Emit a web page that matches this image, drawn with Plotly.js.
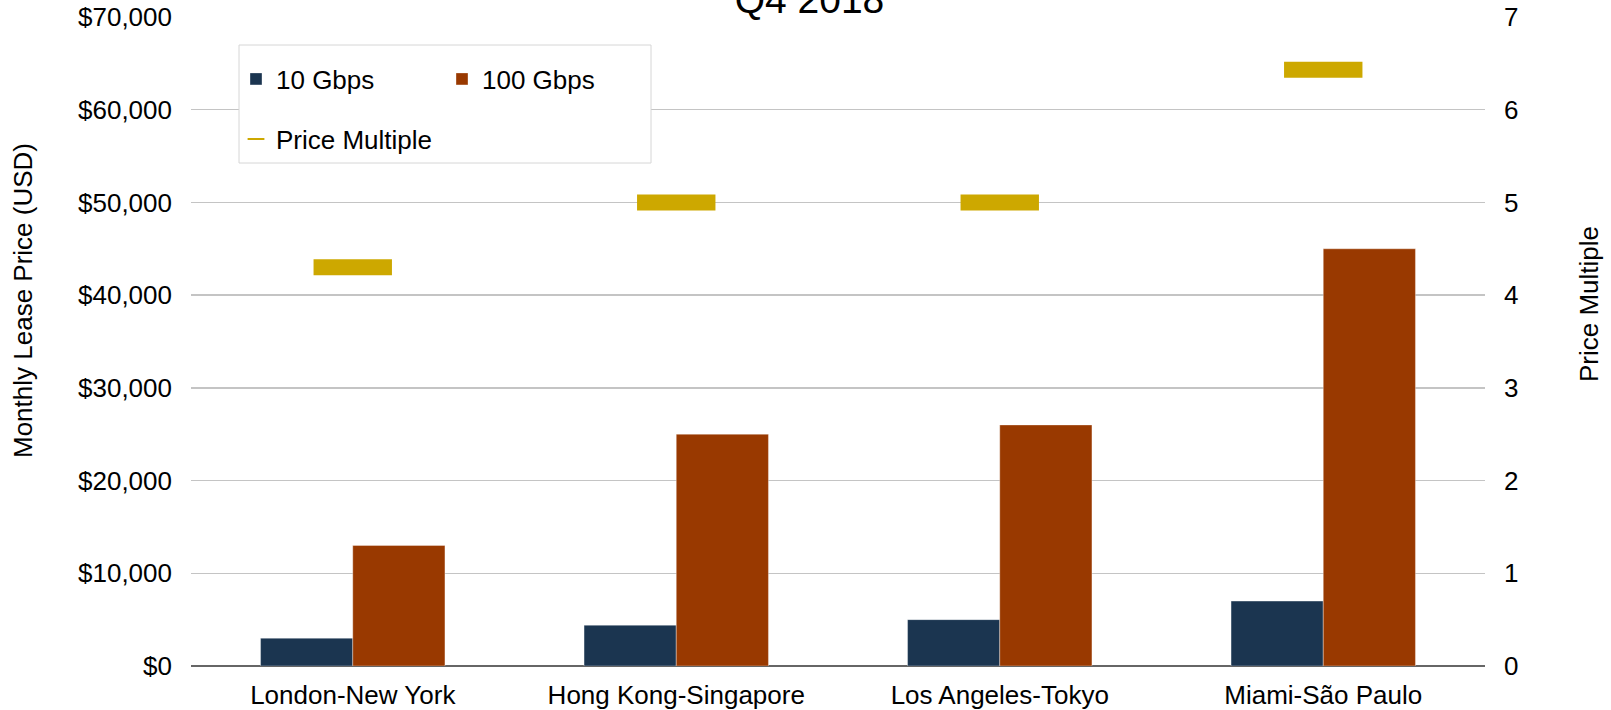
<!DOCTYPE html>
<html>
<head>
<meta charset="utf-8">
<script src="https://cdn.plot.ly/plotly-3.0.1.min.js"></script>
<style>
  html, body { margin: 0; padding: 0; background: #ffffff; }
  #chart { width: 1611px; height: 710px; }
</style>
</head>
<body>
<div id="chart"></div>
<script>
// ---- Data ----
const routes = ["London-New York", "Hong Kong-Singapore", "Los Angeles-Tokyo", "Miami-São Paulo"];
const price10G = [3000, 4400, 5000, 7000];        // Monthly lease price, USD
const price100G = [13000, 25000, 26000, 45000];   // Monthly lease price, USD
const priceMultiple = [4.3, 5.0, 5.0, 6.43];      // Price multiple (right axis)
const leftTickVals = [0, 10000, 20000, 30000, 40000, 50000, 60000, 70000];
const rightTickVals = [0, 1, 2, 3, 4, 5, 6, 7];

const FONT = "'Liberation Sans', Arial, Helvetica, sans-serif";
const NAVY = "#1B3550";
const RUST = "#993900";
const GOLD = "#CDA800";

const traces = [
  {
    type: "bar", name: "10 Gbps", x: routes, y: price10G,
    marker: { color: NAVY, line: { color: "rgba(255,255,255,0.35)", width: 1 } },
    legend: "legend", yaxis: "y"
  },
  {
    type: "bar", name: "100 Gbps", x: routes, y: price100G,
    marker: { color: RUST, line: { color: "rgba(255,255,255,0.35)", width: 1 } },
    legend: "legend2", yaxis: "y"
  },
  {
    type: "scatter", mode: "markers", name: "Price Multiple", x: routes, y: priceMultiple,
    yaxis: "y2", legend: "legend3",
    marker: { symbol: "line-ew", size: 56, color: GOLD, line: { color: GOLD, width: 16 } }
  }
];

// plot area geometry helpers (paper fractions)
const L = 191, R = 1485, T = 17, B = 666;
const W = 1611, H = 710;
const px = v => (v - L) / (R - L);
const py = v => (B - v) / (B - T);

const legendCommon = {
  orientation: "v", bgcolor: "rgba(0,0,0,0)", borderwidth: 0,
  font: { family: FONT, size: 26, color: "#000000" },
  xanchor: "left", yanchor: "middle", itemclick: false, itemdoubleclick: false
};

const layout = {
  width: W, height: H,
  margin: { l: L, r: W - R, t: T, b: H - B, pad: 0 },
  paper_bgcolor: "#ffffff", plot_bgcolor: "#ffffff",
  font: { family: FONT, size: 26, color: "#000000" },
  barmode: "group", bargap: 0.43, bargroupgap: 0,
  showlegend: true,
  title: {
    text: "Q4 2018",
    font: { family: FONT, size: 39, color: "#000000" },
    xref: "container", yref: "container",
    x: 809.5 / W, xanchor: "center",
    y: 1 - 13 / H, yanchor: "bottom"
  },
  xaxis: {
    type: "category",
    showgrid: false, zeroline: false, showline: false,
    ticks: "", ticklabelstandoff: 11,
    tickfont: { family: FONT, size: 26, color: "#000000" },
    fixedrange: true
  },
  yaxis: {
    range: [0, 70000], tickvals: leftTickVals,
    tickformat: "$,.0f",
    showgrid: true, gridcolor: "#c4c4c4", gridwidth: 1.5,
    zeroline: true, zerolinecolor: "#666666", zerolinewidth: 1.5,
    showline: false, ticks: "", ticklabelstandoff: 18,
    tickfont: { family: FONT, size: 26, color: "#000000" },
    fixedrange: true
  },
  yaxis2: {
    overlaying: "y", side: "right",
    range: [0, 7], tickvals: rightTickVals,
    showgrid: false, zeroline: false, showline: false,
    ticks: "", ticklabelstandoff: 18,
    tickfont: { family: FONT, size: 26, color: "#000000" },
    fixedrange: true
  },
  legend:  Object.assign({}, legendCommon, { x: px(236), y: py(79) }),
  legend2: Object.assign({}, legendCommon, { x: px(442), y: py(79) }),
  legend3: Object.assign({}, legendCommon, { x: px(236), y: py(139), itemsizing: "constant" }),
  shapes: [
    {
      type: "rect", xref: "paper", yref: "paper", layer: "above",
      x0: px(239), x1: px(651), y0: py(163), y1: py(45),
      fillcolor: "#ffffff", line: { color: "#d6d6d6", width: 1 }
    }
  ],
  annotations: [
    {
      text: "Monthly Lease Price (USD)", textangle: -90,
      xref: "paper", yref: "paper", x: (23 - L) / (R - L), y: py(301),
      xanchor: "center", yanchor: "middle", showarrow: false,
      font: { family: FONT, size: 26, color: "#000000" }
    },
    {
      text: "Price Multiple", textangle: -90,
      xref: "paper", yref: "paper", x: (1589 - L) / (R - L), y: py(304),
      xanchor: "center", yanchor: "middle", showarrow: false,
      font: { family: FONT, size: 26, color: "#000000" }
    }
  ]
};

Plotly.newPlot("chart", traces, layout, { staticPlot: true, displayModeBar: false });
</script>
</body>
</html>
